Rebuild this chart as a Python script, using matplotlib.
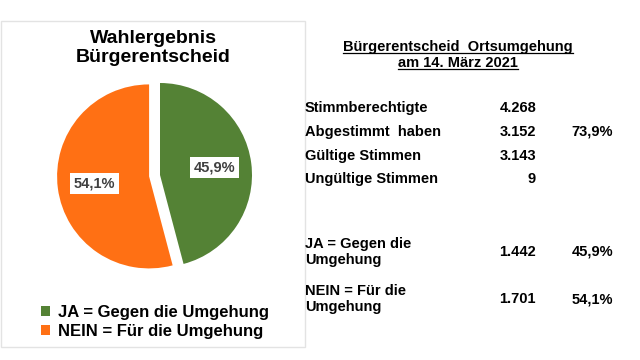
import matplotlib
matplotlib.use("Agg")
import matplotlib.pyplot as plt
from matplotlib import font_manager
from matplotlib.patches import Rectangle
from matplotlib.lines import Line2D

# Schrift mit echtem Fettschnitt suchen
schrift = "DejaVu Sans"
for fam in ["Liberation Sans", "Arimo", "Roboto", "Open Sans"]:
    pfad = font_manager.findfont(font_manager.FontProperties(family=fam, weight="bold"),
                                 fallback_to_default=False)
    if fam.split()[0].lower() in pfad.lower() and "bold" in pfad.lower():
        schrift = fam
        break
plt.rcParams['font.family'] = [schrift, 'DejaVu Sans']

# Daten
kategorien = ["JA = Gegen die Umgehung", "NEIN = Für die Umgehung"]
stimmen = [1442, 1701]
farben = ["#548235", "#FF7014"]

zeilen_labels = ["Stimmberechtigte", "Abgestimmt  haben", "Gültige Stimmen", "Ungültige Stimmen"]
zeilen_werte = [4268, 3152, 3143, 9]
ergebnis_labels = ["JA = Gegen die\nUmgehung", "NEIN = Für die\nUmgehung"]


def de_zahl(v):
    return f"{v:,}".replace(",", ".")


def de_pct(p):
    return f"{p:.1f}%".replace(".", ",")


W, H = 640, 360
fig = plt.figure(figsize=(6.4, 3.6), dpi=100)
fig.patch.set_facecolor("white")


def fx(x):
    return x / W


def fy(y):
    # y in Pixel von oben
    return 1 - y / H


# Rahmen um das Diagramm
fig.patches.append(Rectangle((fx(1), fy(347)), fx(304), 326 / H, transform=fig.transFigure,
                             facecolor="none", edgecolor="#e3e3e3", linewidth=1))

ax = fig.add_axes([0, 0, 1, 1])
ax.set_xlim(0, W)
ax.set_ylim(0, H)
ax.axis("off")

wedges, _, autotexts = ax.pie(
    stimmen, colors=farben, startangle=90, counterclock=False,
    center=(160, H - 175), radius=92, explode=(0, 11),
    autopct=lambda p: de_pct(p), pctdistance=0.6,
    textprops=dict(fontsize=10.5, fontweight="bold", color="#404040"),
    wedgeprops=dict(linewidth=0))
for t in autotexts:
    t.set_bbox(dict(facecolor="white", edgecolor="none", pad=2.5))
ax.set_aspect("equal")
ax.set_xlim(0, W)
ax.set_ylim(0, H)

fig.text(fx(153), fy(48), "Wahlergebnis\nBürgerentscheid", ha="center", va="center",
         fontsize=14, fontweight="bold", linespacing=1.1)

fig.legend(wedges, kategorien, loc="center", bbox_to_anchor=(fx(155), fy(322)),
           frameon=False, prop=dict(size=12, weight="bold"), handlelength=0.55,
           handleheight=0.55, handletextpad=0.45, labelspacing=0.25)

# Tabelle rechts
titel = [fig.text(fx(458), fy(47), "Bürgerentscheid  Ortsumgehung", ha="center", va="center",
                  fontsize=10.5, fontweight="bold"),
         fig.text(fx(458), fy(63), "am 14. März 2021", ha="center", va="center",
                  fontsize=10.5, fontweight="bold")]

zeilen_y = [108, 132, 156, 179]
beteiligung = zeilen_werte[1] / zeilen_werte[0] * 100
for i, (lab, wert) in enumerate(zip(zeilen_labels, zeilen_werte)):
    y = fy(zeilen_y[i])
    fig.text(fx(305), y, lab, ha="left", va="center", fontsize=10.5, fontweight="bold")
    fig.text(fx(536), y, de_zahl(wert), ha="right", va="center", fontsize=10.5, fontweight="bold")
    if i == 1:
        fig.text(fx(613), y, de_pct(beteiligung), ha="right", va="center",
                 fontsize=10.5, fontweight="bold")

gesamt = sum(stimmen)
ergebnis_y = [252, 299]
for lab, st, y in zip(ergebnis_labels, stimmen, ergebnis_y):
    fig.text(fx(305), fy(y), lab, ha="left", va="center", fontsize=10.5, fontweight="bold",
             linespacing=1.15)
    fig.text(fx(536), fy(y), de_zahl(st), ha="right", va="center", fontsize=10.5, fontweight="bold")
    fig.text(fx(613), fy(y), de_pct(st / gesamt * 100), ha="right", va="center",
             fontsize=10.5, fontweight="bold")

# Unterstreichung der Ueberschrift
fig.canvas.draw()
r = fig.canvas.get_renderer()
for t in titel:
    bb = t.get_window_extent(r)
    yy = (bb.y0 + 1.5) / H
    fig.lines.append(Line2D([bb.x0 / W, bb.x1 / W], [yy, yy], transform=fig.transFigure,
                            color="black", linewidth=0.9))

fig.savefig("out.png", dpi=100)
